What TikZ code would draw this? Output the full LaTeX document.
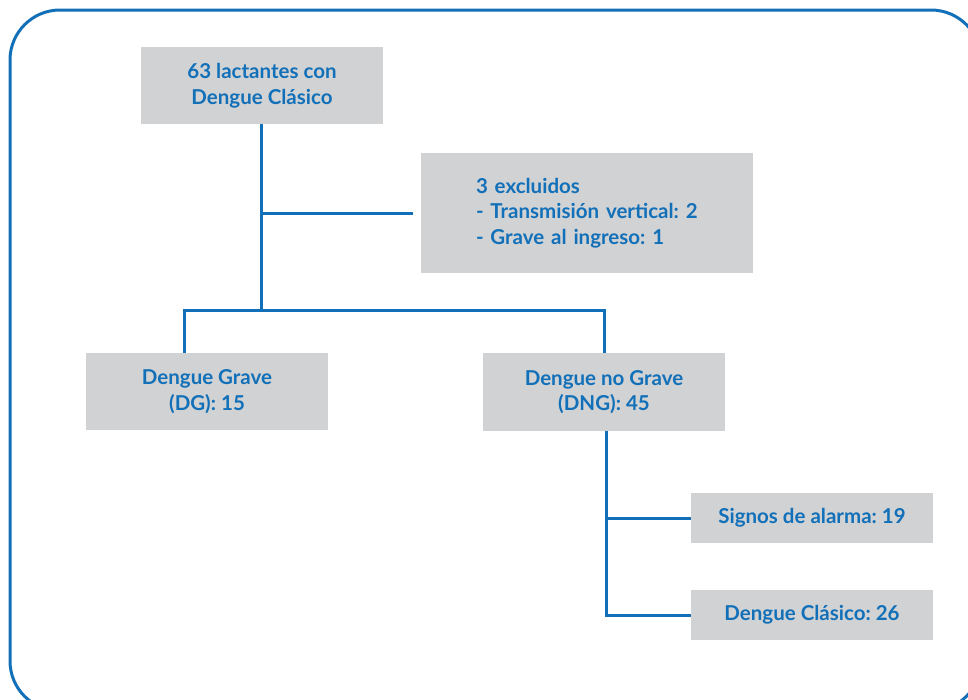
\documentclass[tikz,border=0pt]{standalone}
\usepackage{fontspec}
\setmainfont{Lato}
\frenchspacing
\definecolor{fblue}{RGB}{18,112,185}
\definecolor{fgray}{RGB}{209,210,212}
\begin{document}
\begin{tikzpicture}[x=1pt,y=-1pt,
  box/.style={fill=fgray, draw=none, text=fblue, font=\fontsize{20.5}{25.5}\selectfont\bfseries, align=center, inner sep=0pt, minimum width=242pt},
  conn/.style={draw=fblue, line width=3pt}]
\useasboundingbox (0,0) rectangle (968,699);
\begin{scope}
\clip (0,0) rectangle (968,699);
\draw[fblue, line width=3pt, rounded corners=50pt] (10,10) rectangle (981,711);
\end{scope}
\node[box, minimum height=77pt] (top) at (262,85.5) {63 lactantes con\\Dengue Clásico};
\node[box, minimum width=332pt, minimum height=120pt, text width=222pt, align=left] (excl) at (587,213) {3 excluidos\\- Transmisión vertical: 2\\- Grave al ingreso: 1};
\node[box, minimum height=77pt] (dg) at (207,391.5) {Dengue Grave\\(DG): 15};
\node[box, minimum height=78pt] (dng) at (604,392) {Dengue no Grave\\(DNG): 45};
\node[box, minimum height=50pt] (signos) at (812,518) {Signos de alarma: 19};
\node[box, minimum height=50pt] (clasico) at (812,615) {Dengue Clásico: 26};
\coordinate (j1) at (261,310);
\draw[conn] (top.south -| j1) -- (j1);
\draw[conn] (j1 |- excl.west) -- ([xshift=-8pt]excl.west);
\draw[conn] (dg.north -| 184,0) |- (j1) -| (dng.north);
\draw[conn] ([xshift=2pt]dng.south) |- (clasico.west);
\draw[conn] ([xshift=2pt]dng.south |- signos.west) -- (signos.west);
\end{tikzpicture}
\end{document}
